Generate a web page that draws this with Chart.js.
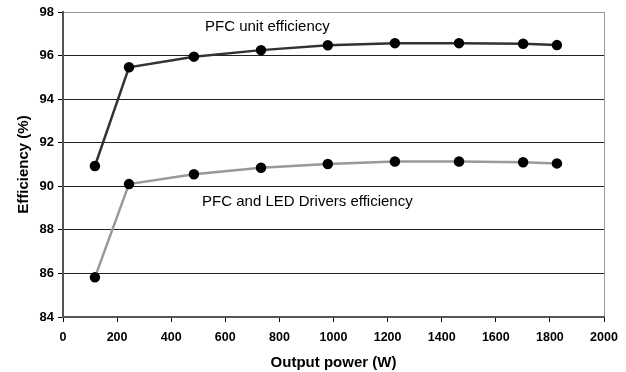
<!DOCTYPE html>
<html>
<head>
<meta charset="utf-8">
<script src="https://cdn.jsdelivr.net/npm/chart.js@4/dist/chart.umd.min.js"></script>
<style>
html,body{margin:0;padding:0;background:#fff;}
#wrap{width:626px;height:372px;position:relative;}
</style>
</head>
<body>
<div id="wrap"><canvas id="c" width="626" height="372"></canvas></div>
<script>
const outputPower = [118, 244, 484, 732, 979, 1227, 1464, 1701, 1826];
const pfcUnit = [90.93, 95.46, 95.95, 96.25, 96.47, 96.57, 96.57, 96.54, 96.48];
const pfcLed = [85.82, 90.1, 90.55, 90.85, 91.02, 91.14, 91.14, 91.1, 91.05];
const seriesNames = ["PFC unit efficiency", "PFC and LED Drivers efficiency"];
const labelAnchors = [[525, 97.3], [514, 89.3]];

const FONT = '"Liberation Sans", Arial, sans-serif';
const toPts = (xs, ys) => xs.map((x, i) => ({x: x, y: ys[i]}));

const textPlugin = {
  id: 'seriesText',
  afterDatasetsDraw(chart) {
    const {ctx, scales} = chart;
    ctx.save();
    ctx.font = '15px ' + FONT;
    ctx.fillStyle = '#000';
    ctx.textAlign = 'left';
    ctx.textBaseline = 'middle';
    seriesNames.forEach((n, i) => {
      ctx.fillText(n, scales.x.getPixelForValue(labelAnchors[i][0]), scales.y.getPixelForValue(labelAnchors[i][1]));
    });
    ctx.restore();
  }
};

new Chart(document.getElementById('c'), {
  type: 'line',
  data: {
    datasets: [
      {label: seriesNames[0], data: toPts(outputPower, pfcUnit), borderColor: '#333', borderWidth: 2.5,
       pointBackgroundColor: '#000', pointBorderColor: '#000', pointRadius: 4, tension: 0},
      {label: seriesNames[1], data: toPts(outputPower, pfcLed), borderColor: '#999', borderWidth: 2.5,
       pointBackgroundColor: '#000', pointBorderColor: '#000', pointRadius: 4, tension: 0}
    ]
  },
  options: {
    responsive: false,
    animation: false,
    layout: {padding: {left: 0, top: 12, right: 22, bottom: 0}},
    plugins: {legend: {display: false}, tooltip: {enabled: false}},
    scales: {
      x: {
        type: 'linear', min: 0, max: 2000,
        afterFit(s) { s.height = 55; },
        ticks: {stepSize: 200, color: '#000', padding: 8, maxRotation: 0,
                callback: v => String(v),
                font: {family: FONT, size: 12.5, weight: 'bold'}},
        grid: {color: c => (c.tick && c.tick.value === 2000) ? '#999' : 'rgba(0,0,0,0)',
               tickColor: '#000', tickLength: 5, lineWidth: 1},
        border: {color: '#555', width: 2},
        title: {display: true, text: 'Output power (W)', color: '#000', padding: {top: 0, bottom: 0},
                font: {family: FONT, size: 15, weight: 'bold'}}
      },
      y: {
        min: 84, max: 98,
        afterFit(s) { s.width = 63; },
        ticks: {stepSize: 2, color: '#000', padding: 4,
                callback: v => String(v),
                font: {family: FONT, size: 13, weight: 'bold'}},
        grid: {color: c => (c.tick && c.tick.value === 98) ? '#999' : '#222',
               tickColor: '#000', tickLength: 5, lineWidth: 1},
        border: {color: '#555', width: 2},
        title: {display: true, text: 'Efficiency (%)', color: '#000', padding: {top: 15, bottom: 0},
                font: {family: FONT, size: 15, weight: 'bold'}}
      }
    }
  },
  plugins: [textPlugin]
});
</script>
</body>
</html>
